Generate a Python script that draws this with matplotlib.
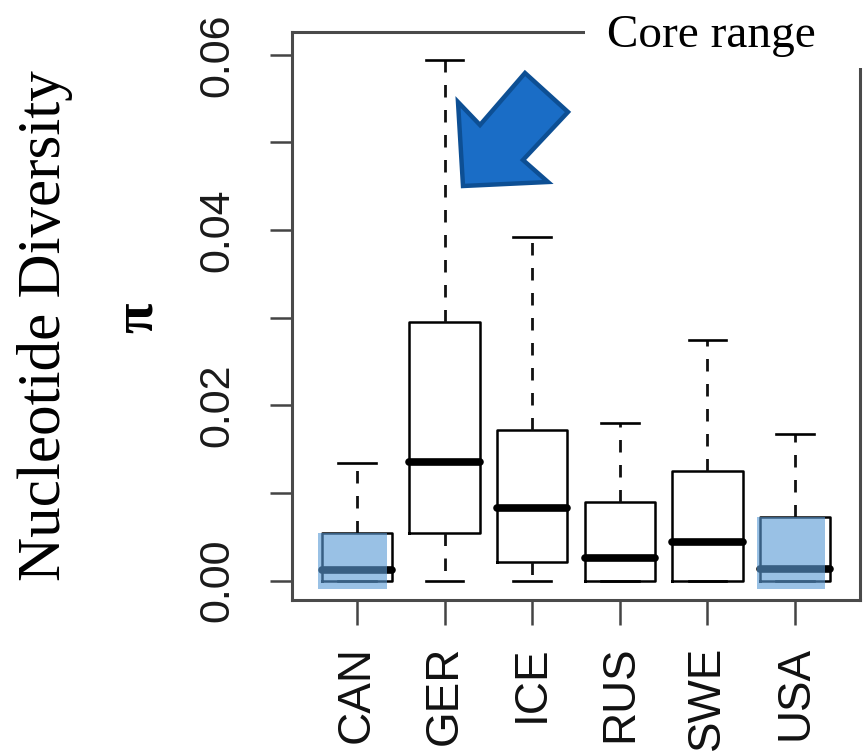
import matplotlib
matplotlib.use("Agg")
import matplotlib.pyplot as plt
from matplotlib.patches import Rectangle, Polygon

# boxplot summary values
populations = ["CAN", "GER", "ICE", "RUS", "SWE", "USA"]
q1 = [0.0, 0.00548, 0.00217, 0.0, 0.0, 0.0]
medians = [0.00125, 0.01357, 0.00833, 0.00262, 0.00445, 0.00137]
q3 = [0.00548, 0.02954, 0.01722, 0.0090, 0.01255, 0.0073]
whisker_lo = [0.0, 0.0, 0.0, 0.0, 0.0, 0.0]
whisker_hi = [0.01346, 0.0594, 0.03924, 0.0180, 0.02749, 0.01677]
y_ticks = [0.00, 0.01, 0.02, 0.03, 0.04, 0.05, 0.06]
y_tick_labels = ["0.00", "", "0.02", "", "0.04", "", "0.06"]

# highlighted ("core range") populations
highlight = ["CAN", "USA"]

W, H = 864, 753
fig = plt.figure(figsize=(W / 100, H / 100), dpi=100)
ax = fig.add_axes([292 / W, 1 - 600 / H, 568 / W, 568 / H])

stats = []
for i, name in enumerate(populations):
    stats.append(dict(label=name, med=medians[i], q1=q1[i], q3=q3[i],
                      whislo=whisker_lo[i], whishi=whisker_hi[i], fliers=[]))

pos = list(range(1, len(populations) + 1))
ax.bxp(stats, positions=pos, widths=0.8, showfliers=False,
       boxprops=dict(color="black", linewidth=1.8),
       medianprops=dict(color="black", linewidth=5.5, solid_capstyle="round"),
       whiskerprops=dict(color="#111111", linewidth=2.0, linestyle=(0, (4.5, 4.5))),
       capprops=dict(color="black", linewidth=1.9),
       capwidths=0.43)

# translucent blue boxes on highlighted populations
for name in highlight:
    i = populations.index(name)
    ax.add_patch(Rectangle((pos[i] - 0.44, -0.0009), 0.78, q3[i] + 0.0009,
                           facecolor="#5B9BD5", alpha=0.62, edgecolor="none", zorder=5))

ax.set_xlim(0.26, 6.74)
ax.set_ylim(-0.0022, 0.0626)

ax.set_yticks(y_ticks)
ax.set_yticklabels(y_tick_labels, rotation=90, va="center",
                   family="Liberation Sans", fontsize=31, color="#1a1a1a")
ax.set_xticks(pos)
ax.set_xticklabels(populations, rotation=90, family="Liberation Sans", fontsize=33,
                   color="#111111")
ax.tick_params(axis="y", length=16, width=1.8, color="#444444", pad=23)
ax.tick_params(axis="x", length=18, width=1.8, color="#444444", pad=15)
for s in ax.spines.values():
    s.set_linewidth(2.2)
    s.set_color("#4a4a4a")

# mask top-right corner of the frame for the "Core range" label
fig.add_artist(Rectangle((585 / W, 1 - 68 / H), 1, 1, transform=fig.transFigure,
                         facecolor="white", edgecolor="none", zorder=10))
fig.text(607 / W, 1 - 36 / H, "Core range", family="Liberation Serif", fontsize=34,
         va="center", ha="left", zorder=11)

# big arrow pointing at GER
arrow_px = [(463, 186), (458, 102), (480, 125), (525, 73), (568, 112),
            (523, 160), (548, 182)]
arrow = Polygon([(x / W, 1 - y / H) for x, y in arrow_px], closed=True,
                transform=fig.transFigure, facecolor="#1A6DC6",
                edgecolor="#0D4F94", linewidth=3.2, joinstyle="miter", zorder=12)
fig.add_artist(arrow)

fig.text(45 / W, 1 - 326 / H, "Nucleotide Diversity", family="Liberation Serif",
         fontsize=44, rotation=90, va="center", ha="center")
fig.text(138 / W, 1 - 318 / H, "\u03c0", family="Liberation Serif", fontsize=40,
         weight="bold", rotation=90, va="center", ha="center")

fig.savefig("out.png", dpi=100)
